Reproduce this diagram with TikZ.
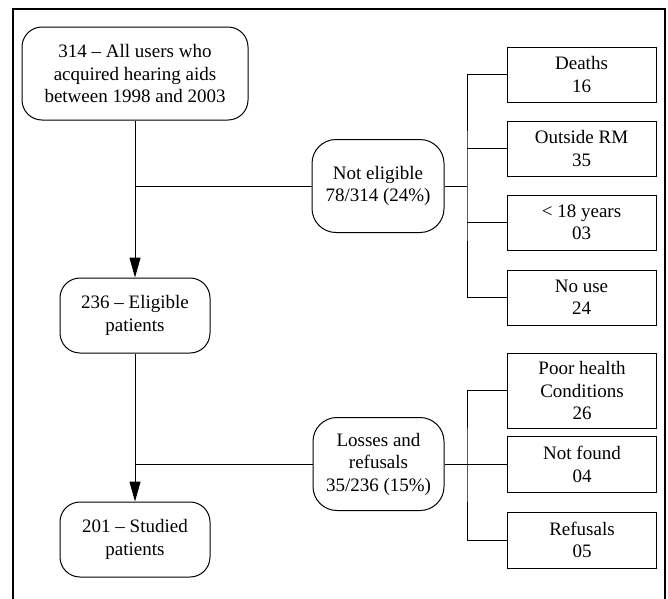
\documentclass[tikz,border=0pt]{standalone}
\usepackage{fontspec}
\setmainfont{Liberation Serif}
\usetikzlibrary{arrows.meta}
\begin{document}
\begin{tikzpicture}[x=1pt,y=-1pt,
  every node/.style={font=\fontsize{19}{22.5}\selectfont, align=center, inner sep=0pt},
  rbox/.style={draw, line width=1pt, rounded corners=20pt},
  sbox/.style={draw, line width=1pt, minimum width=149pt, minimum height=55pt},
  conn/.style={line width=1pt},
  arr/.style={conn, -{Triangle[length=20pt,width=11pt]}}]
\useasboundingbox (0,0) rectangle (668,598);
\draw[line width=1.6pt] (13,600) -- (13,9) -- (665,9) -- (665,600);

\node[rbox, minimum width=226pt, minimum height=93pt] (top) at (135,73.5) {314 -- All users who\\acquired hearing aids\\between 1998 and 2003};
\node[rbox, minimum width=150pt, minimum height=75pt] (elig) at (135,315.5) {236 -- Eligible\\patients};
\node[rbox, minimum width=150pt, minimum height=75pt] (stud) at (135,539.5) {201 -- Studied\\patients};

\node[rbox, rounded corners=24pt, minimum width=132pt, minimum height=93pt] (ne) at (378,186) {Not eligible\\78/314 (24\%)};
\node[rbox, rounded corners=24pt, minimum width=131pt, minimum height=93pt] (lr) at (378.5,464) {Losses and\\refusals\\35/236 (15\%)};

\node[sbox] (deaths) at (581.5,74.5) {Deaths\\16};
\node[sbox] (outside) at (581.5,148.5) {Outside RM\\35};
\node[sbox] (young) at (581.5,222.5) {< 18 years\\03};
\node[sbox] (nouse) at (581.5,297.5) {No use\\24};

\node[sbox, minimum height=75pt] (poor) at (582,390.5) {Poor health\\Conditions\\26};
\node[sbox, minimum height=56pt] (notf) at (582,464.5) {Not found\\04};
\node[sbox, minimum height=56pt] (ref) at (582,540) {Refusals\\05};

\coordinate (j1) at (135,186);
\coordinate (j2) at (135,464);
\coordinate (k1) at (467,186);
\coordinate (k2) at (467,464);

\draw[arr] (top) -- (elig);
\draw[arr] (elig) -- (stud);
\draw[conn] (j1) -- (ne.west);
\draw[conn] (j2) -- (lr.west);
\draw[conn] (ne.east) -- (k1);
\draw[conn] (lr.east) -- (lr.east -| notf.west);
\draw[conn] (deaths.west) -| (k1) |- (nouse.west);
\draw[conn] (outside.west) -- (outside.west -| k1);
\draw[conn] (young.west) -- (young.west -| k1);
\draw[conn] (poor.west) -| (k2) |- (ref.west);
\end{tikzpicture}
\end{document}
